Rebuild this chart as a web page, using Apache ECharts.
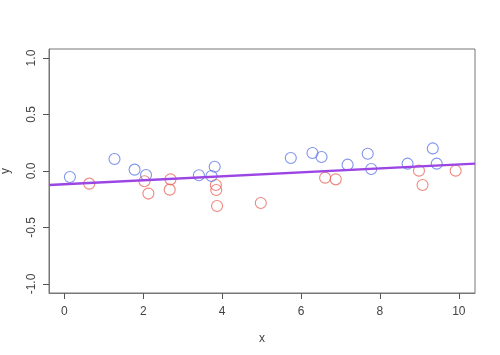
<!DOCTYPE html>
<html lang="en">
<head>
    <meta charset="UTF-8">
    <title>Scatter with fit line</title>
    <script src="https://cdn.jsdelivr.net/npm/echarts@6/dist/echarts.min.js"></script>
    <style>
        html, body { margin: 0; padding: 0; background: #fff; }
        #chart { width: 500px; height: 355px; }
    </style>
</head>
<body>
    <div id="chart"></div>
    <script>
        // Blue group
        var blueX = [0.14, 1.27, 1.78, 2.07, 3.41, 3.73, 3.81, 5.74, 6.29, 6.52, 7.18, 7.69, 7.78, 8.70, 9.34, 9.44];
        var blueY = [-0.053, 0.106, 0.012, -0.035, -0.038, -0.044, 0.038, 0.115, 0.159, 0.124, 0.056, 0.153, 0.018, 0.065, 0.200, 0.065];

        // Red group
        var redX = [0.63, 2.03, 2.13, 2.67, 2.69, 3.84, 3.85, 3.87, 4.98, 6.61, 6.88, 8.99, 9.08, 9.92];
        var redY = [-0.112, -0.091, -0.200, -0.165, -0.074, -0.124, -0.168, -0.310, -0.283, -0.059, -0.074, 0.003, -0.124, 0.003];

        // Fitted line end points (across the full plot width)
        var lineX = [-0.39, 10.41];
        var lineY = [-0.124, 0.065];

        // Tick values
        var xTicks = [0, 2, 4, 6, 8, 10];
        var yTicks = [-1, -0.5, 0, 0.5, 1];

        function pairs(xs, ys) {
            return xs.map(function (x, i) { return [x, ys[i]]; });
        }

        var chart = echarts.init(document.getElementById('chart'));

        var axisText = { color: '#444', fontSize: 12, fontFamily: 'Liberation Sans, Arial, sans-serif' };

        var option = {
            animation: false,
            grid: {
                left: 49, right: 25, top: 49, bottom: 62,
                outerBoundsMode: 'none',
                containLabel: false,
                show: true, borderColor: '#777', borderWidth: 1
            },
            xAxis: {
                type: 'value',
                min: -0.39, max: 10.41,
                name: 'x', nameLocation: 'middle', nameGap: 40,
                nameTextStyle: axisText,
                axisLine: { show: true, onZero: false, lineStyle: { color: '#777' } },
                axisTick: { show: true, length: 6, customValues: xTicks, lineStyle: { color: '#555' } },
                axisLabel: Object.assign({ customValues: xTicks, margin: 13 }, axisText),
                splitLine: { show: false }
            },
            yAxis: {
                type: 'value',
                min: -1.08, max: 1.08,
                name: 'y', nameLocation: 'middle', nameGap: 37, nameRotate: 90,
                nameTextStyle: axisText,
                axisLine: { show: true, onZero: false, lineStyle: { color: '#777' } },
                axisTick: { show: true, length: 6, customValues: yTicks, lineStyle: { color: '#555' } },
                axisLabel: Object.assign({
                    customValues: yTicks, rotate: 90, margin: 11,
                    formatter: function (v) { return v.toFixed(1); }
                }, axisText),
                splitLine: { show: false }
            },
            series: [
                {
                    type: 'scatter',
                    data: pairs(redX, redY),
                    symbol: 'circle',
                    symbolSize: 11,
                    itemStyle: { color: 'rgba(0,0,0,0)', borderColor: '#e8695f', borderWidth: 1.1 }
                },
                {
                    type: 'scatter',
                    data: pairs(blueX, blueY),
                    symbol: 'circle',
                    symbolSize: 11,
                    itemStyle: { color: 'rgba(0,0,0,0)', borderColor: '#5f78e6', borderWidth: 1.1 }
                },
                {
                    type: 'line',
                    data: pairs(lineX, lineY),
                    symbol: 'none',
                    z: 5,
                    lineStyle: { color: '#9b45e4', width: 2.4 }
                }
            ]
        };

        chart.setOption(option);
    </script>
</body>
</html>
